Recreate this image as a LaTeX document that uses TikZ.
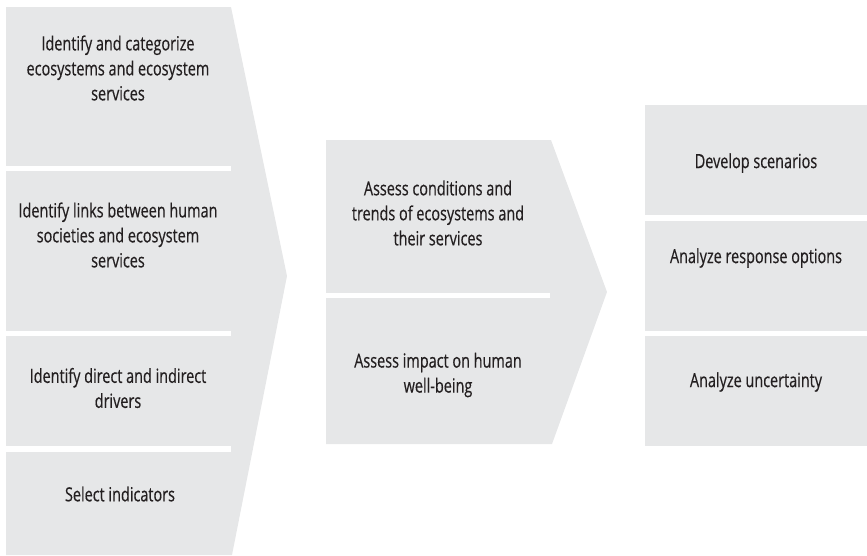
\documentclass[tikz,border=0pt]{standalone}
\usepackage{fontspec}
\setmainfont{Open Sans}[FakeStretch=0.74,FakeBold=0.4]
\definecolor{panelgray}{HTML}{E6E7E8}
\definecolor{ink}{HTML}{231F20}
\tikzset{
  panel/.style={fill=panelgray,draw=none},
  gap/.style={fill=white,draw=none},
  lbl/.style={text=ink,align=center,inner sep=0pt,font=\fontsize{19.5}{25}\selectfont}
}
\begin{document}
\begin{tikzpicture}[x=1pt,y=-1pt]
\useasboundingbox (0,0) rectangle (867,555);
% left chevron
\fill[panel] (6,7) -- (231,7) -- (287,276) -- (232,555) -- (6,555) -- cycle;
\fill[gap] (6,166) rectangle (231,171);
\fill[gap] (6,331) rectangle (231,336);
\fill[gap] (6,446) rectangle (231,452);
% middle chevron
\fill[panel] (326,140) -- (551,140) -- (607,292) -- (552,444) -- (326,444) -- cycle;
\fill[gap] (326,293) rectangle (550,298);
% right boxes
\fill[panel] (645,105) rectangle (867,215);
\fill[panel] (645,221) rectangle (867,331);
\fill[panel] (645,336) rectangle (867,446);
% labels
\node[lbl] (l1) at (118,68) {Identify and categorize\\ecosystems and ecosystem\\services};
\node[lbl] (l2) at (118,235) {Identify links between human\\societies and ecosystem\\services};
\node[lbl] (l3) at (118,388) {Identify direct and indirect\\drivers};
\node[lbl] (l4) at (120,494) {Select indicators};
\node[lbl] (m1) at (438,213) {Assess conditions and\\trends of ecosystems and\\their services};
\node[lbl] (m2) at (438,375) {Assess impact on human\\well-being};
\node[lbl] (r1) at (756,163) {Develop scenarios};
\node[lbl] (r2) at (756,258) {Analyze response options};
\node[lbl] (r3) at (756,382) {Analyze uncertainty};
\end{tikzpicture}
\end{document}
